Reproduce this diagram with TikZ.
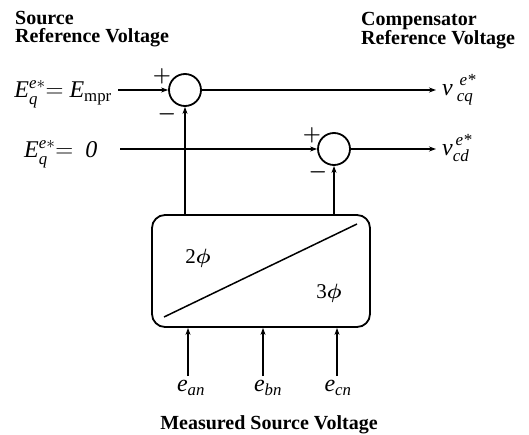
\documentclass[tikz,border=0pt]{standalone}
\usepackage{amsmath}
\usepackage{fontspec}
\setmainfont{Liberation Serif}
\usetikzlibrary{arrows.meta}
\newcommand\supsub[2]{\rlap{\raisebox{10pt}{\fontsize{17}{17}\selectfont\textit{#1}}}\raisebox{-6pt}{\fontsize{17}{17}\selectfont\textit{#2}}}
\begin{document}
\begin{tikzpicture}[x=1pt,y=-1pt,
  conn/.style={line width=1.3pt},
  arr/.style={conn,-{Stealth[length=7pt,width=5pt]}},
  sumnode/.style={circle,draw,line width=1.8pt,minimum size=32pt,inner sep=0pt},
  head/.style={font=\bfseries\fontsize{20}{18}\selectfont,inner sep=0pt,align=left},
  lab/.style={font=\fontsize{24}{24}\selectfont,inner sep=0pt},
  phl/.style={font=\fontsize{21}{21}\selectfont,inner sep=0pt},
  sgn/.style={font=\boldmath\fontsize{20}{20}\selectfont,inner sep=0pt}]
\useasboundingbox (0,0) rectangle (529,435);
% headings
\node[head,anchor=north west] (h1) at (15,11) {Source\\Reference Voltage};
\node[head,anchor=north west] (h3) at (361,12) {Compensator\\Reference Voltage};
\node[head] (h5) at (269,425) {Measured Source Voltage};
% summing junctions and block
\node[sumnode] (s1) at (185,90) {};
\node[sumnode] (s2) at (334,149) {};
\node[draw,line width=1.8pt,rounded corners=13pt,minimum width=218pt,minimum height=112pt,inner sep=0pt] (box) at (261,271) {};
\coordinate (d1) at (164,317);
\coordinate (d2) at (357,224);
\draw[line width=1.5pt] (d1) -- (d2);
\node[phl] (p2) at (198,258) {2$\boldsymbol{\phi}$};
\node[phl] (p3) at (329,293) {3$\boldsymbol{\phi}$};
% inputs and outputs
\coordinate (in1) at (118,90);
\coordinate (in2) at (120,149);
\coordinate (o1) at (436,90);
\coordinate (o2) at (436,149);
\draw[arr] (in1) -- (s1.west);
\draw[arr] (in2) -- (s2.west);
\draw[arr] (s1.east) -- (o1);
\draw[arr] (s2.east) -- (o2);
\draw[arr] (box.north -| s1) -- (s1.south);
\draw[arr] (box.north -| s2) -- (s2.south);
\coordinate (a1) at (188,376);
\coordinate (a2) at (263,376);
\coordinate (a3) at (337,376);
\draw[arr] (a1) -- (a1 |- box.south);
\draw[arr] (a2) -- (a2 |- box.south);
\draw[arr] (a3) -- (a3 |- box.south);
% signs
\node[sgn] (sp1) at (162,76) {$+$};
\node[sgn] (sm1) at (167,114) {$-$};
\node[sgn] (sp2) at (312,135) {$+$};
\node[sgn] (sm2) at (318,172) {$-$};
% labels
\node[lab,anchor=base east] (l1) at (112,98) {$\textit{E}_{\textit{q}}^{\textit{e}*}{=}\ \textit{E}_{\text{mpr}}$};
\node[lab,anchor=base west] (l2) at (24,158) {$\textit{E}_{\textit{q}}^{\textit{e}*}{=}\ \ \textit{0}$};
\node[lab,anchor=base west] (r1) at (442,96) {\textit{v}\,\supsub{\,e*}{cq}};
\node[lab,anchor=base west] (r2) at (442,156) {\textit{v}\supsub{\,e*}{cd}};
\node[lab] (e1) at (191,388) {$\textit{e}_{\textit{an}}$};
\node[lab] (e2) at (268,388) {$\textit{e}_{\textit{bn}}$};
\node[lab] (e3) at (338,388) {$\textit{e}_{\textit{cn}}$};
\end{tikzpicture}
\end{document}
